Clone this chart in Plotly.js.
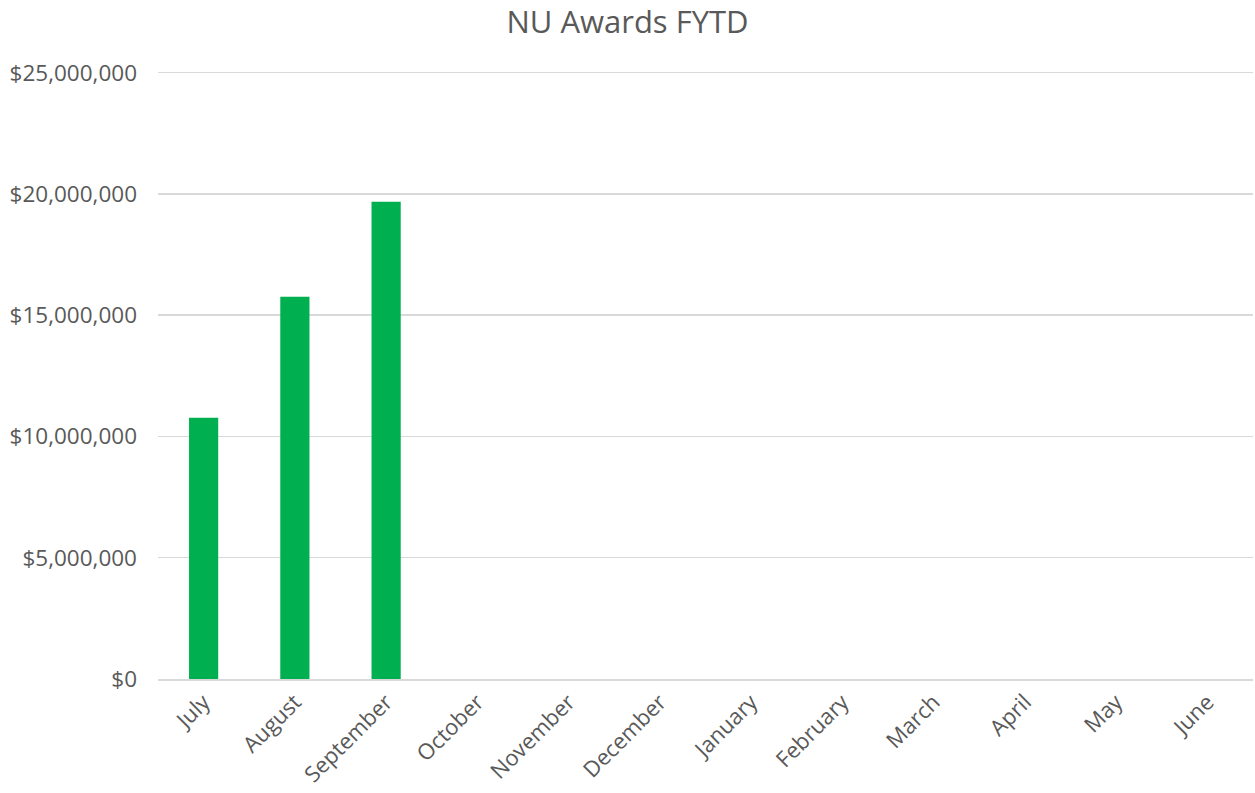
<!DOCTYPE html>
<html>
<head>
<meta charset="utf-8">
<script src="https://cdn.plot.ly/plotly-3.0.1.min.js"></script>
<style>html,body{margin:0;padding:0;background:#fff;}#chart{width:1255px;height:793px;}</style>
</head>
<body>
<div id="chart"></div>
<script>
const months = ["July","August","September","October","November","December","January","February","March","April","May","June"];
const awards = [10770000, 15760000, 19680000, null, null, null, null, null, null, null, null, null];
const yTicks = [0, 5000000, 10000000, 15000000, 20000000, 25000000];

const font = "Open Sans, DejaVu Sans, sans-serif";
const trace = {
  type: "bar",
  x: months,
  y: awards,
  marker: {color: "#00b050"},
  hoverinfo: "x+y"
};
const layout = {
  width: 1255, height: 793,
  margin: {l: 158, r: 2, t: 69, b: 114},
  paper_bgcolor: "#fff", plot_bgcolor: "#fff",
  title: {text: "NU Awards FYTD", font: {family: font, size: 31, color: "#595959"}, x: 0.5, xanchor: "center", y: 0.972, yanchor: "middle"},
  bargap: 0.68,
  showlegend: false,
  xaxis: {
    type: "category",
    tickangle: -45,
    tickfont: {family: font, size: 22, color: "#595959"},
    showgrid: false, showline: true, linecolor: "#d9d9d9", linewidth: 1.5,
    ticks: "", automargin: false
  },
  yaxis: {
    range: [0, 25150000],
    tickvals: yTicks,
    tickformat: "$,.0f",
    tickfont: {family: font, size: 22.5, color: "#595959"},
    showgrid: true, gridcolor: "#d9d9d9", gridwidth: 1.5,
    zeroline: false, showline: false, ticks: "", ticklabelstandoff: 20,
    automargin: false
  }
};
Plotly.newPlot("chart", [trace], layout, {displayModeBar: false, staticPlot: true});
</script>
</body>
</html>
